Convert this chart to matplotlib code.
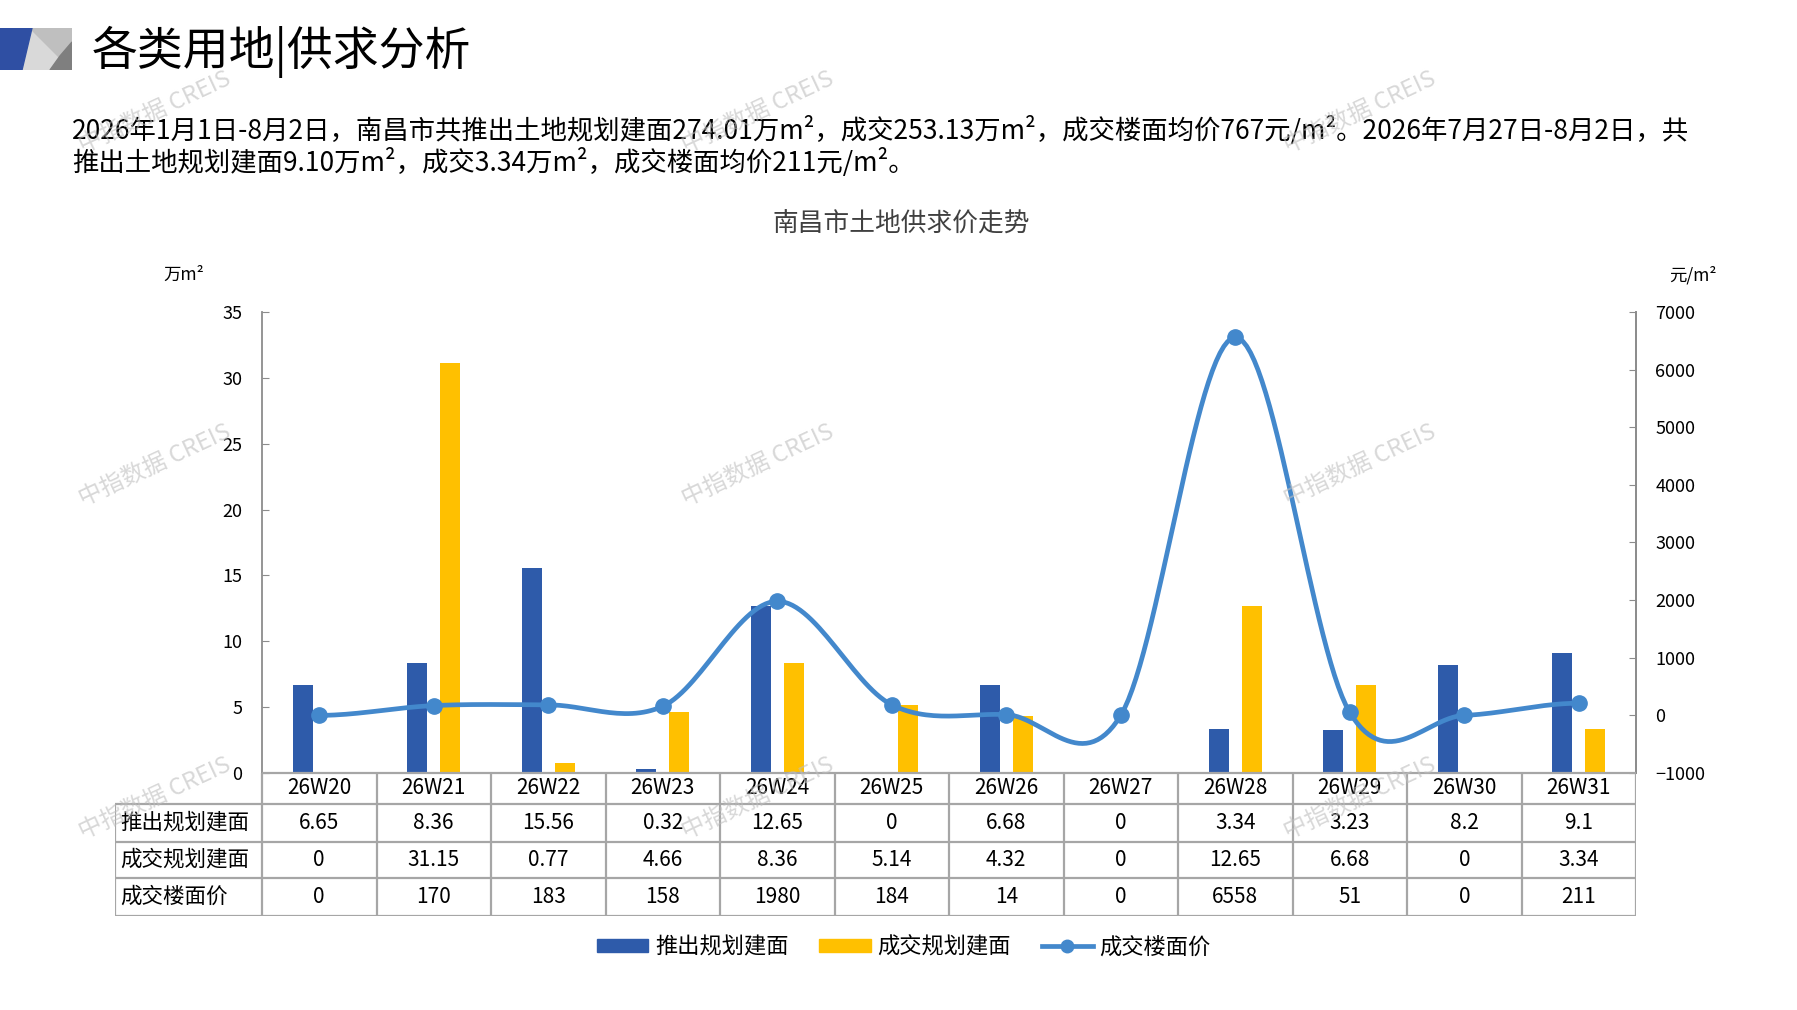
import numpy as np
import matplotlib
matplotlib.use("Agg")
import matplotlib.pyplot as plt
from matplotlib.patches import Patch, Polygon
from matplotlib.lines import Line2D

plt.rcParams['font.family'] = ['Noto Sans CJK SC', 'DejaVu Sans']

weeks = ['26W20', '26W21', '26W22', '26W23', '26W24', '26W25',
         '26W26', '26W27', '26W28', '26W29', '26W30', '26W31']
supply = [6.65, 8.36, 15.56, 0.32, 12.65, 0, 6.68, 0, 3.34, 3.23, 8.2, 9.1]
deal = [0, 31.15, 0.77, 4.66, 8.36, 5.14, 4.32, 0, 12.65, 6.68, 0, 3.34]
price = [0, 170, 183, 158, 1980, 184, 14, 0, 6558, 51, 0, 211]
row_labels = ['推出规划建面', '成交规划建面', '成交楼面价']

title = '各类用地|供求分析'
para1 = ('2026年1月1日-8月2日，南昌市共推出土地规划建面274.01万m²，成交253.13万m²，'
         '成交楼面均价767元/m²。2026年7月27日-8月2日，共')
para2 = '推出土地规划建面9.10万m²，成交3.34万m²，成交楼面均价211元/m²。'
chart_title = '南昌市土地供求价走势'

C_BLUE = '#2E5BAA'
C_YEL = '#FFC000'
C_LINE = '#4388CC'
C_GRID = '#8C8C8C'

W, H = 1797, 1010
fig = plt.figure(figsize=(W / 100, H / 100), dpi=100)


def rect(x0, y0, x1, y1):
    # pixel box (top-left origin) -> figure fraction
    return [x0 / W, 1 - y1 / H, (x1 - x0) / W, (y1 - y0) / H]


def smooth(xs, ys, n=30):
    # excel-like smoothed line (catmull-rom through the points)
    xs = np.asarray(xs, float)
    ys = np.asarray(ys, float)
    px = np.concatenate([[2 * xs[0] - xs[1]], xs, [2 * xs[-1] - xs[-2]]])
    py = np.concatenate([[ys[0]], ys, [ys[-1]]])
    outx, outy = [], []
    for i in range(1, len(px) - 2):
        t = np.linspace(0, 1, n, endpoint=False)
        h00 = 2 * t**3 - 3 * t**2 + 1
        h10 = t**3 - 2 * t**2 + t
        h01 = -2 * t**3 + 3 * t**2
        h11 = t**3 - t**2
        mx0 = (px[i + 1] - px[i - 1]) / 2
        mx1 = (px[i + 2] - px[i]) / 2
        my0 = (py[i + 1] - py[i - 1]) / 2 if i > 1 else 0
        my1 = (py[i + 2] - py[i]) / 2 if i < len(px) - 3 else 0
        outx.extend(h00 * px[i] + h10 * mx0 + h01 * px[i + 1] + h11 * mx1)
        outy.extend(h00 * py[i] + h10 * my0 + h01 * py[i + 1] + h11 * my1)
    outx.append(xs[-1])
    outy.append(ys[-1])
    return np.array(outx), np.array(outy)


# header icon
ico = fig.add_axes(rect(0, 28, 72, 70))
ico.set_xlim(0, 72)
ico.set_ylim(42, 0)
ico.axis('off')
ico.add_patch(Polygon([(0, 0), (72, 0), (72, 42), (0, 42)], color='#D9D9D9'))
ico.add_patch(Polygon([(30, 0), (72, 0), (72, 42)], color='#BFBFBF'))
ico.add_patch(Polygon([(72, 14), (72, 42), (50, 42), (60, 28)], color='#7F7F7F'))
ico.add_patch(Polygon([(0, 0), (32, 0), (22, 42), (0, 42)], color='#2F4FA3'))

fig.text(92 / W, 1 - 52 / H, title, fontsize=33, va='center', ha='left')
fig.text(72 / W, 1 - 130 / H, para1, fontsize=19, va='center', ha='left')
fig.text(72 / W, 1 - 162 / H, para2, fontsize=19, va='center', ha='left')
fig.text(901 / W, 1 - 225 / H, chart_title, fontsize=18.5, va='center',
         ha='center', color='#404040')
fig.text(184 / W, 1 - 275 / H, '万m²', fontsize=12.5, va='center', ha='center')
fig.text(1693 / W, 1 - 275 / H, '元/m²', fontsize=12.5, va='center', ha='center')

# main chart
L, R, T, B = 262, 1636, 312, 773
ax = fig.add_axes(rect(L, T, R, B))
x = np.arange(len(weeks))
ax.bar(x - 0.145, supply, width=0.175, color=C_BLUE, zorder=2)
ax.bar(x + 0.145, deal, width=0.175, color=C_YEL, zorder=2)
ax.set_xlim(-0.5, len(weeks) - 0.5)
ax.set_ylim(0, 35)
ax.set_yticks(range(0, 36, 5))
ax.set_xticks([])
for s in ['top', 'bottom']:
    ax.spines[s].set_visible(False)
for s in ['left', 'right']:
    ax.spines[s].set_color(C_GRID)
    ax.spines[s].set_linewidth(1.3)
ax.tick_params(axis='y', direction='in', length=5, color=C_GRID,
               labelsize=13, pad=14)

ax2 = ax.twinx()
ax2.set_ylim(-1000, 7000)
ax2.set_yticks(range(-1000, 7001, 1000))
sx, sy = smooth(x, price)
ax2.plot(sx, sy, color=C_LINE, lw=3.4, zorder=3, solid_capstyle='round')
ax2.plot(x, price, 'o', color=C_LINE, ms=11, zorder=4)
for s in ['top', 'bottom', 'left']:
    ax2.spines[s].set_visible(False)
ax2.spines['right'].set_color(C_GRID)
ax2.spines['right'].set_linewidth(1.3)
ax2.tick_params(axis='y', direction='in', length=5, color=C_GRID,
                labelsize=13, pad=14)

# data table under the chart
TL, TB = 115, 916
rows_px = [773, 804, 841.5, 878, 916]
cw = (R - L) / len(weeks)
tab = fig.add_axes(rect(TL, T, R, TB))
tab.set_xlim(-0.5 - (L - TL) / cw, len(weeks) - 0.5)
tab.set_ylim(TB, T)
tab.axis('off')
lk = dict(color='#A6A6A6', lw=1.6, solid_capstyle='butt')
xl = -0.5 - (L - TL) / cw
tab.plot([-0.5, len(weeks) - 0.5], [rows_px[0]] * 2, **lk)
for yy in rows_px[1:]:
    tab.plot([xl, len(weeks) - 0.5], [yy, yy], **lk)
tab.plot([xl, xl], [rows_px[1], rows_px[-1]], **lk)
for i in range(len(weeks) + 1):
    tab.plot([i - 0.5, i - 0.5], [rows_px[0], rows_px[-1]], **lk)

cells = [weeks,
         [f'{v:g}' for v in supply],
         [f'{v:g}' for v in deal],
         [str(v) for v in price]]
for r, vals in enumerate(cells):
    yc = (rows_px[r] + rows_px[r + 1]) / 2
    for i, v in enumerate(vals):
        tab.text(i, yc, v, ha='center', va='center', fontsize=15)
    if r > 0:
        tab.text(xl + 0.05, yc, row_labels[r - 1], ha='left', va='center',
                 fontsize=15.5)

# legend
handles = [Patch(color=C_BLUE), Patch(color=C_YEL),
           Line2D([], [], color=C_LINE, lw=3.4, marker='o', ms=9)]
fig.legend(handles, row_labels, loc='center', ncol=3, frameon=False,
           bbox_to_anchor=(904 / W, 1 - 947 / H), fontsize=16,
           handlelength=2.3, handleheight=0.55, columnspacing=1.4,
           handletextpad=0.3)

# watermarks
for wx in [155, 758, 1360]:
    for wy in [112, 465, 798]:
        fig.text(wx / W, 1 - wy / H, '中指数据 CREIS', fontsize=17,
                 color='#BEBEBE', alpha=0.6, rotation=25, ha='center',
                 va='center')

fig.savefig('out.png', dpi=100)
